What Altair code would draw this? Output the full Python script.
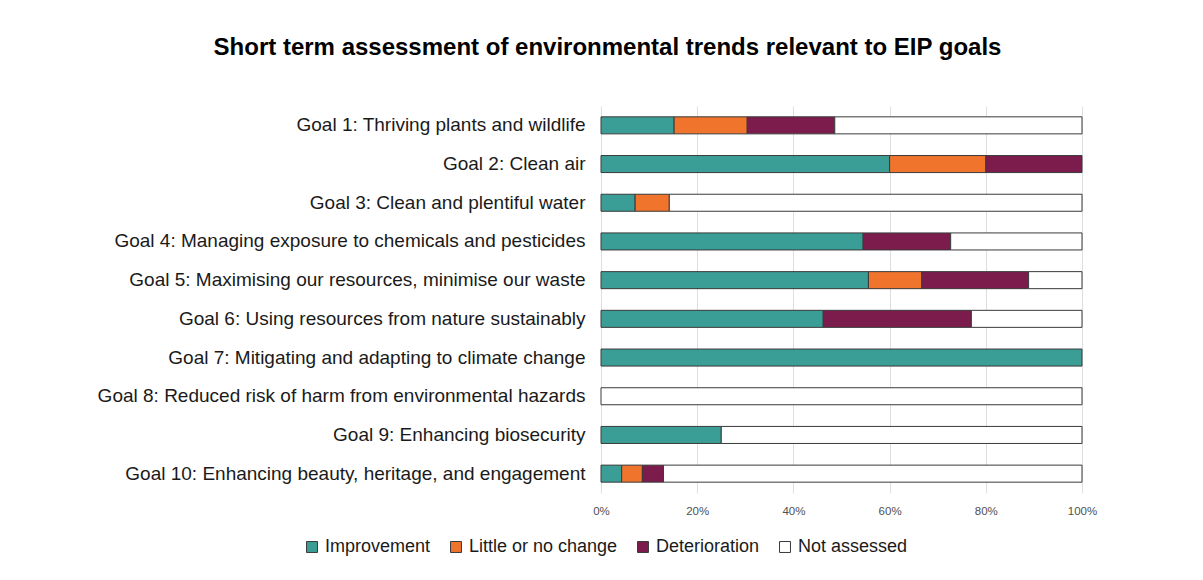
import altair as alt
import pandas as pd

goals = [
    "Goal 1: Thriving plants and wildlife ",
    "Goal 2: Clean air",
    "Goal 3: Clean and plentiful water",
    "Goal 4: Managing exposure to chemicals and pesticides",
    "Goal 5: Maximising our resources, minimise our waste",
    "Goal 6: Using resources from nature sustainably",
    "Goal 7: Mitigating and adapting to climate change",
    "Goal 8: Reduced risk of harm from environmental hazards",
    "Goal 9: Enhancing biosecurity",
    "Goal 10: Enhancing beauty, heritage, and engagement",
]
categories = ["Improvement", "Little or no change", "Deterioration", "Not assessed"]
colors = ["#3A9E96", "#F0742B", "#7B1C4D", "#FFFFFF"]

improvement = [15.2, 60.0, 7.1, 54.5, 55.6, 46.2, 100.0, 0.0, 25.0, 4.3]
little_change = [15.2, 20.0, 7.1, 0.0, 11.1, 0.0, 0.0, 0.0, 0.0, 4.3]
deterioration = [18.2, 20.0, 0.0, 18.2, 22.2, 30.8, 0.0, 0.0, 0.0, 4.4]
not_assessed = [51.4, 0.0, 85.8, 27.3, 11.1, 23.0, 0.0, 100.0, 75.0, 87.0]

series = [improvement, little_change, deterioration, not_assessed]
rows = []
for ci, (cat, vals) in enumerate(zip(categories, series)):
    for g, v in zip(goals, vals):
        if v > 0:
            rows.append({"goal": g, "category": cat, "value": v / 100.0, "order": ci})
df = pd.DataFrame(rows)

chart = (
    alt.Chart(df)
    .mark_bar(stroke="#3a3a3a", strokeWidth=1)
    .encode(
        x=alt.X(
            "value:Q",
            stack="zero",
            scale=alt.Scale(domain=[0, 1], nice=False),
            axis=alt.Axis(
                format="%",
                values=[0, 0.2, 0.4, 0.6, 0.8, 1.0],
                title=None,
                domain=False,
                ticks=False,
                grid=True,
                gridColor="#dedede",
                gridWidth=1,
                labelFlush=False,
                labelFont="Liberation Sans",
                labelFontSize=11.5,
                labelColor="#505050",
                labelPadding=12,
            ),
        ),
        y=alt.Y(
            "goal:N",
            sort=goals,
            scale=alt.Scale(paddingInner=0.56, paddingOuter=0.28),
            axis=alt.Axis(
                title=None,
                domain=False,
                ticks=False,
                labelFont="Liberation Sans",
                labelFontSize=19,
                labelColor="#1a1a1a",
                labelPadding=16,
                labelLimit=600,
            ),
        ),
        color=alt.Color(
            "category:N",
            sort=categories,
            scale=alt.Scale(domain=categories, range=colors),
            legend=alt.Legend(
                title=None,
                orient="none",
                direction="horizontal",
                legendX=-298,
                legendY=432,
                symbolType="square",
                symbolSize=120,
                symbolStrokeColor="#3a3a3a",
                symbolStrokeWidth=1,
                symbolOpacity=1,
                labelFont="Liberation Sans",
                labelFontSize=18,
                labelColor="#1a1a1a",
                labelOffset=4,
                columnPadding=16,
            ),
        ),
        order=alt.Order("order:Q", sort="ascending"),
    )
    .properties(
        width=481,
        height=387,
        title=alt.TitleParams(
            "Short term assessment of environmental trends relevant to EIP goals",
            font="Liberation Sans",
            fontSize=24,
            fontWeight="bold",
            color="#000000",
            anchor="middle",
            frame="group",
            dx=-234,
            offset=46,
        ),
        autosize=alt.AutoSizeParams(type="none"),
        padding={"left": 593, "top": 98, "right": 113, "bottom": 79},
    )
    .configure_view(stroke=None)
)

chart.save("out.html", embed_options={"renderer": "svg", "actions": False})
